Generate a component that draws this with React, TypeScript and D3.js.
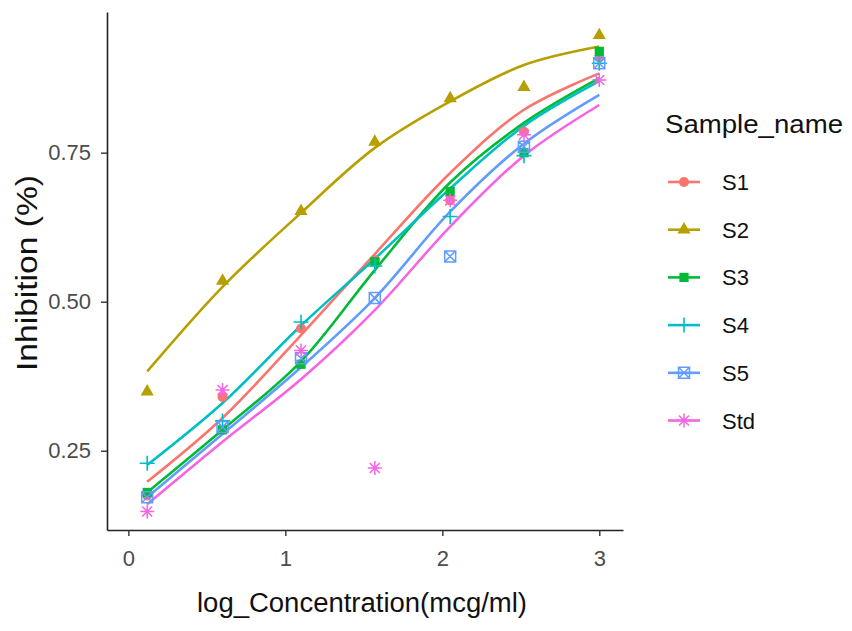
import React, { useEffect, useRef } from 'react';
import * as d3 from 'd3';

// log10 of concentration (mcg/ml)
const logConc = [0.12, 0.6, 1.1, 1.57, 2.05, 2.52, 3.0];

const sampleNames = ['S1', 'S2', 'S3', 'S4', 'S5', 'Std'];
const colours = ['#F8766D', '#B79F00', '#00BA38', '#00BFC4', '#619CFF', '#F564E3'];
const shapes = ['circle', 'triangle', 'square', 'plus', 'boxcross', 'asterisk'];

// observed inhibition
const s1Obs = [0.175, 0.34, 0.455, 0.57, 0.67, 0.785, 0.91];
const s2Obs = [0.349, 0.535, 0.652, 0.768, 0.841, 0.86, 0.947];
const s3Obs = [0.18, 0.285, 0.395, 0.567, 0.685, 0.75, 0.92];
const s4Obs = [0.229, 0.3, 0.466, 0.56, 0.643, 0.745, 0.9];
const s5Obs = [0.172, 0.29, 0.405, 0.506, 0.576, 0.76, 0.9];
const stdObs = [0.148, 0.352, 0.418, 0.221, 0.67, 0.78, 0.872];

// smoothed fit
const s1Fit = [0.198, 0.305, 0.444, 0.58, 0.716, 0.822, 0.883];
const s2Fit = [0.383, 0.525, 0.649, 0.758, 0.836, 0.897, 0.928];
const s3Fit = [0.18, 0.285, 0.4, 0.553, 0.7, 0.8, 0.875];
const s4Fit = [0.226, 0.33, 0.46, 0.572, 0.69, 0.795, 0.87];
const s5Fit = [0.172, 0.278, 0.39, 0.506, 0.651, 0.765, 0.847];
const stdFit = [0.16, 0.265, 0.37, 0.486, 0.626, 0.745, 0.83];

const xTicks = [0, 1, 2, 3];
const yTicks = [0.25, 0.5, 0.75];

const observed = [s1Obs, s2Obs, s3Obs, s4Obs, s5Obs, stdObs];
const fitted = [s1Fit, s2Fit, s3Fit, s4Fit, s5Fit, stdFit];

const FONT = "'Liberation Sans', Arial, sans-serif";

function Marker({ shape, colour, x, y }: { shape: string; colour: string; x: number; y: number }) {
  const t = `translate(${x},${y})`;
  if (shape === 'circle') return <circle cx={x} cy={y} r={5} fill={colour} />;
  if (shape === 'triangle')
    return <path transform={t} d={d3.symbol().type(d3.symbolTriangle).size(75)()!} fill={colour} />;
  if (shape === 'square')
    return <path transform={t} d={d3.symbol().type(d3.symbolSquare).size(85)()!} fill={colour} />;
  if (shape === 'plus')
    return <path transform={t} d="M-7.5,0H7.5M0,-7.5V7.5" stroke={colour} strokeWidth={1.6} fill="none" />;
  if (shape === 'boxcross')
    return (
      <path transform={t} d="M-5.5,-5.5H5.5V5.5H-5.5Z M-5.5,-5.5L5.5,5.5 M5.5,-5.5L-5.5,5.5"
        stroke={colour} strokeWidth={1.5} fill="none" />
    );
  return (
    <path transform={t} d="M-7,0H7M0,-7V7M-5,-5L5,5M5,-5L-5,5" stroke={colour} strokeWidth={1.5} fill="none" />
  );
}

export default function App() {
  const xAxisRef = useRef<SVGGElement>(null);
  const yAxisRef = useRef<SVGGElement>(null);

  const xScale = d3.scaleLinear().domain([-0.136, 3.151]).range([107, 623]);
  const yScale = d3.scaleLinear().domain([0.117, 0.986]).range([530, 12]);

  const line = d3.line<[number, number]>()
    .x((d) => xScale(d[0]))
    .y((d) => yScale(d[1]))
    .curve(d3.curveCatmullRom.alpha(0.5));

  useEffect(() => {
    const xa = d3.axisBottom(xScale).tickValues(xTicks).tickSizeInner(6).tickSizeOuter(0)
      .tickPadding(14).tickFormat(d3.format('d'));
    const ya = d3.axisLeft(yScale).tickValues(yTicks).tickSizeInner(6).tickSizeOuter(0)
      .tickPadding(10).tickFormat(d3.format('.2f'));
    const gx = d3.select(xAxisRef.current!).call(xa as any);
    const gy = d3.select(yAxisRef.current!).call(ya as any);
    for (const g of [gx, gy]) {
      g.select('.domain').attr('stroke', '#222').attr('stroke-width', 1.6);
      g.selectAll('.tick line').attr('stroke', '#333').attr('stroke-width', 1.4);
      g.selectAll('.tick text')
        .attr('fill', '#4D4D4D')
        .style('font-family', FONT)
        .style('font-size', '22px');
    }
  }, []);

  return (
    <svg width={852} height={631} style={{ position: 'absolute', left: 0, top: 0, background: '#fff' }}>
      <g ref={xAxisRef} transform="translate(0,530)" />
      <g ref={yAxisRef} transform="translate(107,0)" />

      {fitted.map((f, i) => (
        <path key={'l' + i}
          d={line(f.map((v, j) => [logConc[j], v] as [number, number]))!}
          fill="none" stroke={colours[i]} strokeWidth={2.6} />
      ))}

      {observed.map((obs, i) =>
        obs.map((v, j) => (
          <Marker key={'p' + i + '-' + j} shape={shapes[i]} colour={colours[i]} x={xScale(logConc[j])} y={yScale(v)} />
        ))
      )}

      <text x={362} y={612} textAnchor="middle" fontFamily={FONT} fontSize={27} fill="#111"
        textLength={330} lengthAdjust="spacingAndGlyphs">log_Concentration(mcg/ml)</text>
      <text transform="translate(37,273) rotate(-90)" textAnchor="middle" fontFamily={FONT} fontSize={29}
        fill="#111" textLength={196} lengthAdjust="spacingAndGlyphs">Inhibition (%)</text>

      <g>
        <text x={665} y={133} fontFamily={FONT} fontSize={26} fill="#111"
          textLength={178} lengthAdjust="spacingAndGlyphs">Sample_name</text>
        {sampleNames.map((s, i) => {
          const cy = 182 + i * 47.7;
          return (
            <g key={'k' + s}>
              <line x1={668} x2={700} y1={cy} y2={cy} stroke={colours[i]} strokeWidth={2.6} />
              <Marker shape={shapes[i]} colour={colours[i]} x={684} y={cy} />
              <text x={722} y={cy + 8} fontFamily={FONT} fontSize={22} fill="#111">{s}</text>
            </g>
          );
        })}
      </g>
    </svg>
  );
}
